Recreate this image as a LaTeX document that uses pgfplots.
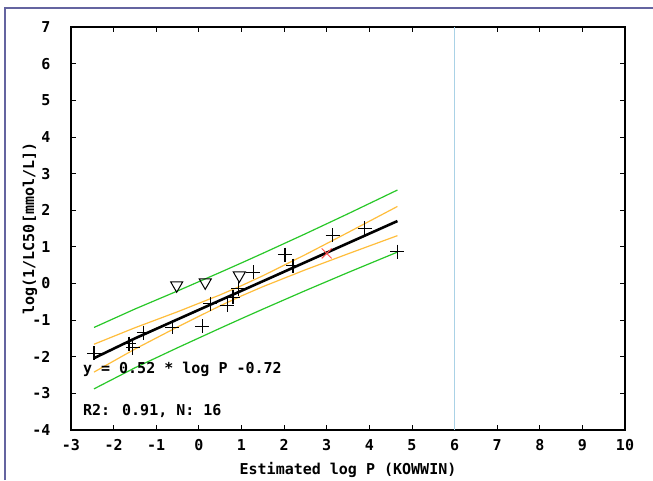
\documentclass[border=0pt]{standalone}
\usepackage{fontspec}
\setmainfont{DejaVu Sans Mono}
\usepackage{pgfplots}
\usepackage{pgfplotstable}
\pgfplotsset{compat=1.18}
\definecolor{bandgreen}{RGB}{40,200,40}
\definecolor{bandorange}{RGB}{255,190,60}
\definecolor{vblue}{RGB}{170,210,230}
\definecolor{framec}{RGB}{100,100,160}
\definecolor{redx}{RGB}{255,80,80}
\pgfplotstableread{
x line ciu cil piu pil
-2.46 -2.039 -1.659 -2.419 -1.201 -2.877
-1.5 -1.500 -1.209 -1.791 -0.698 -2.302
-0.5 -0.980 -0.773 -1.187 -0.205 -1.755
0.5 -0.460 -0.311 -0.609 0.302 -1.222
1.0 -0.200 -0.060 -0.340 0.560 -0.960
1.5 0.060 0.209 -0.089 0.822 -0.702
2.5 0.580 0.787 0.373 1.355 -0.195
3.5 1.100 1.391 0.809 1.902 0.298
4.66 1.703 2.102 1.305 2.550 0.856
}\bands
\pgfplotstableread{
x y
-2.46 -1.91
-1.64 -1.64
-1.55 -1.75
-1.29 -1.34
-0.62 -1.20
0.08 -1.17
0.27 -0.55
0.67 -0.60
0.80 -0.38
0.93 -0.14
1.28 0.30
2.02 0.79
2.21 0.49
3.14 1.31
3.89 1.50
4.66 0.87
}\train
\pgfplotstableread{
x y
-0.52 -0.05
0.15 0.03
0.95 0.22
}\tri
\begin{document}
\begin{tikzpicture}
\useasboundingbox (0pt,0pt) rectangle (653pt,480pt);
\fill[white] (0pt,0pt) rectangle (653pt,480pt);
\draw[framec, line width=1.5pt] (5pt,0pt) -- (5pt,472pt) -- (653pt,472pt);
\begin{axis}[
  at={(71pt,50pt)}, anchor=south west,
  scale only axis, width=554pt, height=403pt,
  xmin=-3, xmax=10, ymin=-4, ymax=7,
  xtick={-3,-2,...,10}, ytick={-4,-3,...,7},
  xticklabels={-3,-2,-1,0,1,2,3,4,5,6,7,8,9,10},
  yticklabels={-4,-3,-2,-1,0,1,2,3,4,5,6,7},
  tick align=inside, major tick length=5pt,
  tick style={black, line width=0.8pt},
  axis line style={black, line width=1.2pt},
  tick label style={font=\fontsize{15}{18}\selectfont\bfseries},
  yticklabel style={xshift=-17pt},
  xticklabel style={yshift=-6pt},
  label style={font=\fontsize{15}{18}\selectfont\bfseries},
  xlabel={Estimated log P (KOWWIN)},
  ylabel={log(1/LC50[mmol/L])},
  xlabel style={at={(axis description cs:0.5,-0.099)}, anchor=center},
  ylabel style={at={(axis description cs:-0.074,0.5)}, anchor=center},
  clip=false,
]
\addplot[vblue, line width=1pt] coordinates {(6,-4) (6,7)};
\addplot[bandgreen, line width=1.2pt] table[x=x,y=piu] {\bands};
\addplot[bandgreen, line width=1.2pt] table[x=x,y=pil] {\bands};
\addplot[bandorange, line width=1.2pt] table[x=x,y=ciu] {\bands};
\addplot[bandorange, line width=1.2pt] table[x=x,y=cil] {\bands};
\addplot[black, line width=2.6pt] table[x=x,y=line] {\bands};
\addplot[only marks, mark=+, mark size=7pt, mark options={black, line width=1.2pt}] table[x=x,y=y] {\train};
\addplot[only marks, mark=triangle, mark size=7pt, mark options={black, rotate=180, line width=1pt, fill=white}] table[x=x,y=y] {\tri};
\addplot[only marks, mark=x, mark size=7pt, mark options={redx, line width=1pt}] coordinates {(3.0,0.82)};
\node[anchor=west, font=\fontsize{15}{18}\selectfont\bfseries] at (axis cs:-2.8,-2.35) {y = 0.52 * log P -0.72};
\node[anchor=west, font=\fontsize{15}{18}\selectfont\bfseries] at (axis cs:-2.8,-3.47) {R2: 0.91, N: 16};
\end{axis}
\end{tikzpicture}
\end{document}
